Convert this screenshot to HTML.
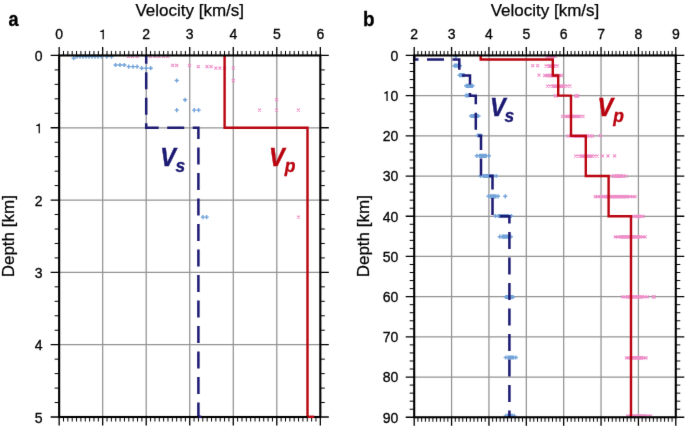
<!DOCTYPE html>
<html><head><meta charset="utf-8"><title>Velocity models</title><style>html,body{margin:0;padding:0;background:#fff;overflow:hidden}svg{display:block}#w{width:685px;height:426px;will-change:transform}</style></head><body><div id="w">
<svg width="685" height="426" viewBox="0 0 685 426"><defs><filter id="soft" x="0" y="0" width="1" height="1" color-interpolation-filters="sRGB"><feConvolveMatrix order="3" kernelMatrix="0.0052 0.0619 0.0052 0.0619 0.7314 0.0619 0.0052 0.0619 0.0052" edgeMode="duplicate"/></filter></defs><g filter="url(#soft)"><rect width="685" height="426" fill="#fff"/><path d="M102.68 55.45V417M146.21 55.45V417M189.74 55.45V417M233.27 55.45V417M276.8 55.45V417M59.15 127.76H320.33M59.15 200.07H320.33M59.15 272.38H320.33M59.15 344.69H320.33M451.57 55.45V417.25M488.94 55.45V417.25M526.31 55.45V417.25M563.68 55.45V417.25M601.05 55.45V417.25M638.42 55.45V417.25M414.2 95.65H675.79M414.2 135.85H675.79M414.2 176.05H675.79M414.2 216.25H675.79M414.2 256.45H675.79M414.2 296.65H675.79M414.2 336.85H675.79M414.2 377.05H675.79" stroke="#939393" stroke-width="1.25" fill="none"/>
<text transform="translate(160.3 165.5) scale(0.92 1)" font-family='"Liberation Sans", sans-serif' font-weight="bold" font-style="italic" font-size="25.5" fill="#1c1a72" stroke="#1c1a72" stroke-width="0.45">V</text>
<text x="175.6" y="172.1" font-family='"Liberation Sans", sans-serif' font-weight="bold" font-style="italic" font-size="17.5" fill="#1c1a72" stroke="#1c1a72" stroke-width="0.3">s</text>
<text transform="translate(269 165.5) scale(0.92 1)" font-family='"Liberation Sans", sans-serif' font-weight="bold" font-style="italic" font-size="25.5" fill="#b9040f" stroke="#b9040f" stroke-width="0.45">V</text>
<text x="284.8" y="172.1" font-family='"Liberation Sans", sans-serif' font-weight="bold" font-style="italic" font-size="17.5" fill="#b9040f" stroke="#b9040f" stroke-width="0.3">p</text>
<text transform="translate(489.9 115.6) scale(0.92 1)" font-family='"Liberation Sans", sans-serif' font-weight="bold" font-style="italic" font-size="25.5" fill="#1c1a72" stroke="#1c1a72" stroke-width="0.45">V</text>
<text x="504.6" y="121.8" font-family='"Liberation Sans", sans-serif' font-weight="bold" font-style="italic" font-size="17.5" fill="#1c1a72" stroke="#1c1a72" stroke-width="0.3">s</text>
<text transform="translate(597.5 115.6) scale(0.92 1)" font-family='"Liberation Sans", sans-serif' font-weight="bold" font-style="italic" font-size="25.5" fill="#b9040f" stroke="#b9040f" stroke-width="0.45">V</text>
<text x="613.2" y="122.4" font-family='"Liberation Sans", sans-serif' font-weight="bold" font-style="italic" font-size="17.5" fill="#b9040f" stroke="#b9040f" stroke-width="0.3">p</text>
<path d="M126.9 54.8l3 3M126.9 57.8l3 -3M131 54.8l3 3M131 57.8l3 -3M135.6 54.8l3 3M135.6 57.8l3 -3M148.9 54.8l3 3M148.9 57.8l3 -3M153.5 54.8l3 3M153.5 57.8l3 -3M157.5 54.8l3 3M157.5 57.8l3 -3M162.1 54.8l3 3M162.1 57.8l3 -3M166.2 54.8l3 3M166.2 57.8l3 -3M171.1 63.8l3 3M171.1 66.8l3 -3M175.2 63.8l3 3M175.2 66.8l3 -3M188 63.8l3 3M188 66.8l3 -3M196.8 65.2l3 3M196.8 68.2l3 -3M205.5 65.2l3 3M205.5 68.2l3 -3M209.6 65.2l3 3M209.6 68.2l3 -3M214.3 66.6l3 3M214.3 69.6l3 -3M218.4 66.6l3 3M218.4 69.6l3 -3M223.1 66.6l3 3M223.1 69.6l3 -3M231.8 66.6l3 3M231.8 69.6l3 -3M231.8 79l3 3M231.8 82l3 -3M275.1 98.1l3 3M275.1 101.1l3 -3M258 108.6l3 3M258 111.6l3 -3M275.1 108.6l3 3M275.1 111.6l3 -3M296.9 108.6l3 3M296.9 111.6l3 -3M297 215.6l3 3M297 218.6l3 -3M545.4 54.8l3 3M545.4 57.8l3 -3M553.6 54.8l3 3M553.6 57.8l3 -3M547.2 54.8l3 3M547.2 57.8l3 -3M548.35 54.8l3 3M548.35 57.8l3 -3M549.5 54.8l3 3M549.5 57.8l3 -3M550.65 54.8l3 3M550.65 57.8l3 -3M551.8 54.8l3 3M551.8 57.8l3 -3M544.6 64.5l3 3M544.6 67.5l3 -3M555.7 64.5l3 3M555.7 67.5l3 -3M547.04 64.5l3 3M547.04 67.5l3 -3M548.29 64.5l3 3M548.29 67.5l3 -3M549.53 64.5l3 3M549.53 67.5l3 -3M550.77 64.5l3 3M550.77 67.5l3 -3M552.01 64.5l3 3M552.01 67.5l3 -3M553.26 64.5l3 3M553.26 67.5l3 -3M543.2 74l3 3M543.2 77l3 -3M545.8 74l3 3M545.8 77l3 -3M560 74l3 3M560 77l3 -3M557.4 74l3 3M557.4 77l3 -3M546.9 74l3 3M546.9 77l3 -3M548.24 74l3 3M548.24 77l3 -3M549.58 74l3 3M549.58 77l3 -3M550.93 74l3 3M550.93 77l3 -3M552.27 74l3 3M552.27 77l3 -3M553.62 74l3 3M553.62 77l3 -3M554.96 74l3 3M554.96 77l3 -3M556.3 74l3 3M556.3 77l3 -3M546 84.6l3 3M546 87.6l3 -3M548.6 84.6l3 3M548.6 87.6l3 -3M568.4 84.6l3 3M568.4 87.6l3 -3M565.8 84.6l3 3M565.8 87.6l3 -3M550.93 84.6l3 3M550.93 87.6l3 -3M552.18 84.6l3 3M552.18 87.6l3 -3M553.44 84.6l3 3M553.44 87.6l3 -3M554.69 84.6l3 3M554.69 87.6l3 -3M555.95 84.6l3 3M555.95 87.6l3 -3M557.2 84.6l3 3M557.2 87.6l3 -3M558.45 84.6l3 3M558.45 87.6l3 -3M559.71 84.6l3 3M559.71 87.6l3 -3M560.96 84.6l3 3M560.96 87.6l3 -3M562.22 84.6l3 3M562.22 87.6l3 -3M563.47 84.6l3 3M563.47 87.6l3 -3M553.8 94.4l3 3M553.8 97.4l3 -3M554.3 94.4l3 3M554.3 97.4l3 -3M574.2 94.4l3 3M574.2 97.4l3 -3M575.2 94.4l3 3M575.2 97.4l3 -3M576.2 94.4l3 3M576.2 97.4l3 -3M561 114.8l3 3M561 117.8l3 -3M563.6 114.8l3 3M563.6 117.8l3 -3M581.5 114.8l3 3M581.5 117.8l3 -3M578.9 114.8l3 3M578.9 117.8l3 -3M565.51 114.8l3 3M565.51 117.8l3 -3M566.79 114.8l3 3M566.79 117.8l3 -3M568.06 114.8l3 3M568.06 117.8l3 -3M569.34 114.8l3 3M569.34 117.8l3 -3M570.61 114.8l3 3M570.61 117.8l3 -3M571.89 114.8l3 3M571.89 117.8l3 -3M573.16 114.8l3 3M573.16 117.8l3 -3M574.44 114.8l3 3M574.44 117.8l3 -3M575.71 114.8l3 3M575.71 117.8l3 -3M576.99 114.8l3 3M576.99 117.8l3 -3M566.7 134.5l3 3M566.7 137.5l3 -3M569.3 134.5l3 3M569.3 137.5l3 -3M590.9 134.5l3 3M590.9 137.5l3 -3M588.3 134.5l3 3M588.3 137.5l3 -3M572.02 134.5l3 3M572.02 137.5l3 -3M573.38 134.5l3 3M573.38 137.5l3 -3M574.73 134.5l3 3M574.73 137.5l3 -3M576.09 134.5l3 3M576.09 137.5l3 -3M577.44 134.5l3 3M577.44 137.5l3 -3M578.8 134.5l3 3M578.8 137.5l3 -3M580.16 134.5l3 3M580.16 137.5l3 -3M581.51 134.5l3 3M581.51 137.5l3 -3M582.87 134.5l3 3M582.87 137.5l3 -3M584.22 134.5l3 3M584.22 137.5l3 -3M585.58 134.5l3 3M585.58 137.5l3 -3M574.2 154.6l3 3M574.2 157.6l3 -3M576.8 154.6l3 3M576.8 157.6l3 -3M595.6 154.6l3 3M595.6 157.6l3 -3M593 154.6l3 3M593 157.6l3 -3M578.91 154.6l3 3M578.91 157.6l3 -3M580.24 154.6l3 3M580.24 157.6l3 -3M581.57 154.6l3 3M581.57 157.6l3 -3M582.9 154.6l3 3M582.9 157.6l3 -3M584.23 154.6l3 3M584.23 157.6l3 -3M585.57 154.6l3 3M585.57 157.6l3 -3M586.9 154.6l3 3M586.9 157.6l3 -3M588.23 154.6l3 3M588.23 157.6l3 -3M589.56 154.6l3 3M589.56 157.6l3 -3M590.89 154.6l3 3M590.89 157.6l3 -3M609.6 174.6l3 3M609.6 177.6l3 -3M612.2 174.6l3 3M612.2 177.6l3 -3M624.6 174.6l3 3M624.6 177.6l3 -3M622 174.6l3 3M622 177.6l3 -3M612.9 174.6l3 3M612.9 177.6l3 -3M614.3 174.6l3 3M614.3 177.6l3 -3M615.7 174.6l3 3M615.7 177.6l3 -3M617.1 174.6l3 3M617.1 177.6l3 -3M618.5 174.6l3 3M618.5 177.6l3 -3M619.9 174.6l3 3M619.9 177.6l3 -3M621.3 174.6l3 3M621.3 177.6l3 -3M593.7 195.2l3 3M593.7 198.2l3 -3M596.3 195.2l3 3M596.3 198.2l3 -3M598.9 195.2l3 3M598.9 198.2l3 -3M601.5 195.2l3 3M601.5 198.2l3 -3M633.7 195.2l3 3M633.7 198.2l3 -3M631.1 195.2l3 3M631.1 198.2l3 -3M628.5 195.2l3 3M628.5 198.2l3 -3M625.9 195.2l3 3M625.9 198.2l3 -3M602.5 195.2l3 3M602.5 198.2l3 -3M603.82 195.2l3 3M603.82 198.2l3 -3M605.14 195.2l3 3M605.14 198.2l3 -3M606.45 195.2l3 3M606.45 198.2l3 -3M607.77 195.2l3 3M607.77 198.2l3 -3M609.09 195.2l3 3M609.09 198.2l3 -3M610.41 195.2l3 3M610.41 198.2l3 -3M611.72 195.2l3 3M611.72 198.2l3 -3M613.04 195.2l3 3M613.04 198.2l3 -3M614.36 195.2l3 3M614.36 198.2l3 -3M615.68 195.2l3 3M615.68 198.2l3 -3M616.99 195.2l3 3M616.99 198.2l3 -3M618.31 195.2l3 3M618.31 198.2l3 -3M619.63 195.2l3 3M619.63 198.2l3 -3M620.95 195.2l3 3M620.95 198.2l3 -3M622.26 195.2l3 3M622.26 198.2l3 -3M623.58 195.2l3 3M623.58 198.2l3 -3M624.9 195.2l3 3M624.9 198.2l3 -3M631.8 214.8l3 3M631.8 217.8l3 -3M641.5 214.8l3 3M641.5 217.8l3 -3M633.93 214.8l3 3M633.93 217.8l3 -3M635.29 214.8l3 3M635.29 217.8l3 -3M636.65 214.8l3 3M636.65 217.8l3 -3M638.01 214.8l3 3M638.01 217.8l3 -3M639.37 214.8l3 3M639.37 217.8l3 -3M613.8 235.3l3 3M613.8 238.3l3 -3M616.4 235.3l3 3M616.4 238.3l3 -3M619 235.3l3 3M619 238.3l3 -3M643.6 235.3l3 3M643.6 238.3l3 -3M641 235.3l3 3M641 238.3l3 -3M638.4 235.3l3 3M638.4 238.3l3 -3M620.36 235.3l3 3M620.36 238.3l3 -3M621.64 235.3l3 3M621.64 238.3l3 -3M622.92 235.3l3 3M622.92 238.3l3 -3M624.21 235.3l3 3M624.21 238.3l3 -3M625.49 235.3l3 3M625.49 238.3l3 -3M626.77 235.3l3 3M626.77 238.3l3 -3M628.06 235.3l3 3M628.06 238.3l3 -3M629.34 235.3l3 3M629.34 238.3l3 -3M630.63 235.3l3 3M630.63 238.3l3 -3M631.91 235.3l3 3M631.91 238.3l3 -3M633.19 235.3l3 3M633.19 238.3l3 -3M634.48 235.3l3 3M634.48 238.3l3 -3M635.76 235.3l3 3M635.76 238.3l3 -3M637.04 235.3l3 3M637.04 238.3l3 -3M621.2 295.4l3 3M621.2 298.4l3 -3M623.8 295.4l3 3M623.8 298.4l3 -3M645.7 295.4l3 3M645.7 298.4l3 -3M643.1 295.4l3 3M643.1 298.4l3 -3M626.59 295.4l3 3M626.59 298.4l3 -3M627.84 295.4l3 3M627.84 298.4l3 -3M629.08 295.4l3 3M629.08 298.4l3 -3M630.33 295.4l3 3M630.33 298.4l3 -3M631.58 295.4l3 3M631.58 298.4l3 -3M632.83 295.4l3 3M632.83 298.4l3 -3M634.07 295.4l3 3M634.07 298.4l3 -3M635.32 295.4l3 3M635.32 298.4l3 -3M636.57 295.4l3 3M636.57 298.4l3 -3M637.82 295.4l3 3M637.82 298.4l3 -3M639.06 295.4l3 3M639.06 298.4l3 -3M640.31 295.4l3 3M640.31 298.4l3 -3M651.8 295.4l3 3M651.8 298.4l3 -3M652.6 295.4l3 3M652.6 298.4l3 -3M625 356.3l3 3M625 359.3l3 -3M627.6 356.3l3 3M627.6 359.3l3 -3M644.6 356.3l3 3M644.6 359.3l3 -3M642 356.3l3 3M642 359.3l3 -3M629.31 356.3l3 3M629.31 359.3l3 -3M630.68 356.3l3 3M630.68 359.3l3 -3M632.06 356.3l3 3M632.06 359.3l3 -3M633.43 356.3l3 3M633.43 359.3l3 -3M634.8 356.3l3 3M634.8 359.3l3 -3M636.17 356.3l3 3M636.17 359.3l3 -3M637.54 356.3l3 3M637.54 359.3l3 -3M638.92 356.3l3 3M638.92 359.3l3 -3M640.29 356.3l3 3M640.29 359.3l3 -3M626.2 414.5l3 3M626.2 417.5l3 -3M628.8 414.5l3 3M628.8 417.5l3 -3M649.1 414.5l3 3M649.1 417.5l3 -3M646.5 414.5l3 3M646.5 417.5l3 -3M631.24 414.5l3 3M631.24 417.5l3 -3M632.52 414.5l3 3M632.52 417.5l3 -3M633.8 414.5l3 3M633.8 417.5l3 -3M635.09 414.5l3 3M635.09 417.5l3 -3M636.37 414.5l3 3M636.37 417.5l3 -3M637.65 414.5l3 3M637.65 417.5l3 -3M638.93 414.5l3 3M638.93 417.5l3 -3M640.21 414.5l3 3M640.21 417.5l3 -3M641.5 414.5l3 3M641.5 417.5l3 -3M642.78 414.5l3 3M642.78 417.5l3 -3M644.06 414.5l3 3M644.06 417.5l3 -3M531.2 64.2l3 3M531.2 67.2l3 -3M536.1 64.2l3 3M536.1 67.2l3 -3M537.5 73.7l3 3M537.5 76.7l3 -3M599 134.2l3 3M599 137.2l3 -3M600.9 154.3l3 3M600.9 157.3l3 -3M606.5 154.3l3 3M606.5 157.3l3 -3M613.1 154.3l3 3M613.1 157.3l3 -3" stroke="#ee8ec8" stroke-width="1.1" fill="none"/>
<path d="M71.6 58.2h4.2M73.7 56.1v4.2M74.9 56.6h4.2M77 54.5v4.2M77.9 56.6h4.2M80 54.5v4.2M80.9 56.6h4.2M83 54.5v4.2M83.9 56.6h4.2M86 54.5v4.2M86.9 56.6h4.2M89 54.5v4.2M89.9 56.6h4.2M92 54.5v4.2M92.9 56.6h4.2M95 54.5v4.2M95.9 56.6h4.2M98 54.5v4.2M99.4 56.6h4.2M101.5 54.5v4.2M104.7 56.6h4.2M106.8 54.5v4.2M109.4 56.6h4.2M111.5 54.5v4.2M113.5 65h4.2M115.6 62.9v4.2M117.9 65h4.2M120 62.9v4.2M122.2 65h4.2M124.3 62.9v4.2M126.6 66.6h4.2M128.7 64.5v4.2M130.9 66.6h4.2M133 64.5v4.2M135 66.6h4.2M137.1 64.5v4.2M139.6 68.2h4.2M141.7 66.1v4.2M144.2 68.2h4.2M146.3 66.1v4.2M148.6 68.2h4.2M150.7 66.1v4.2M174.6 80.5h4.2M176.7 78.4v4.2M183 99.8h4.2M185.1 97.7v4.2M174.6 110.1h4.2M176.7 108v4.2M192.1 110.1h4.2M194.2 108v4.2M196.5 110.1h4.2M198.6 108v4.2M200.8 217.1h4.2M202.9 215v4.2M204.5 217.1h4.2M206.6 215v4.2M453.3 56h4.2M455.4 53.9v4.2M454.2 56h4.2M456.3 53.9v4.2M452.3 65.7h4.2M454.4 63.6v4.2M453.65 65.7h4.2M455.75 63.6v4.2M455 65.7h4.2M457.1 63.6v4.2M456.35 65.7h4.2M458.45 63.6v4.2M457.7 65.7h4.2M459.8 63.6v4.2M457.5 75.2h4.2M459.6 73.1v4.2M458.97 75.2h4.2M461.07 73.1v4.2M460.43 75.2h4.2M462.53 73.1v4.2M461.9 75.2h4.2M464 73.1v4.2M464.1 85.8h4.2M466.2 83.7v4.2M465.36 85.8h4.2M467.46 83.7v4.2M466.62 85.8h4.2M468.72 83.7v4.2M467.88 85.8h4.2M469.98 83.7v4.2M469.14 85.8h4.2M471.24 83.7v4.2M470.4 85.8h4.2M472.5 83.7v4.2M463.9 95.5h4.2M466 93.4v4.2M465.05 95.5h4.2M467.15 93.4v4.2M466.2 95.5h4.2M468.3 93.4v4.2M469 116h4.2M471.1 113.9v4.2M470.22 116h4.2M472.32 113.9v4.2M471.43 116h4.2M473.53 113.9v4.2M472.65 116h4.2M474.75 113.9v4.2M473.87 116h4.2M475.97 113.9v4.2M475.08 116h4.2M477.18 113.9v4.2M476.3 116h4.2M478.4 113.9v4.2M475.6 135.5h4.2M477.7 133.4v4.2M477.2 135.5h4.2M479.3 133.4v4.2M478.8 135.5h4.2M480.9 133.4v4.2M474.7 155.8h4.2M476.8 153.7v4.2M486.7 155.8h4.2M488.8 153.7v4.2M477.34 155.8h4.2M479.44 153.7v4.2M478.68 155.8h4.2M480.78 153.7v4.2M480.03 155.8h4.2M482.13 153.7v4.2M481.37 155.8h4.2M483.47 153.7v4.2M482.72 155.8h4.2M484.82 153.7v4.2M484.06 155.8h4.2M486.16 153.7v4.2M478.4 176h4.2M480.5 173.9v4.2M481.2 176h4.2M483.3 173.9v4.2M494.1 176h4.2M496.2 173.9v4.2M491.3 176h4.2M493.4 173.9v4.2M481.85 176h4.2M483.95 173.9v4.2M483.11 176h4.2M485.21 173.9v4.2M484.37 176h4.2M486.47 173.9v4.2M485.62 176h4.2M487.72 173.9v4.2M486.88 176h4.2M488.98 173.9v4.2M488.13 176h4.2M490.23 173.9v4.2M489.39 176h4.2M491.49 173.9v4.2M490.65 176h4.2M492.75 173.9v4.2M486.4 196.3h4.2M488.5 194.2v4.2M495.9 196.3h4.2M498 194.2v4.2M488.49 196.3h4.2M490.59 194.2v4.2M489.82 196.3h4.2M491.92 194.2v4.2M491.15 196.3h4.2M493.25 194.2v4.2M492.48 196.3h4.2M494.58 194.2v4.2M493.81 196.3h4.2M495.91 194.2v4.2M493.4 216h4.2M495.5 213.9v4.2M496.2 216h4.2M498.3 213.9v4.2M509.1 216h4.2M511.2 213.9v4.2M506.3 216h4.2M508.4 213.9v4.2M496.85 216h4.2M498.95 213.9v4.2M498.11 216h4.2M500.21 213.9v4.2M499.37 216h4.2M501.47 213.9v4.2M500.62 216h4.2M502.72 213.9v4.2M501.88 216h4.2M503.98 213.9v4.2M503.13 216h4.2M505.23 213.9v4.2M504.39 216h4.2M506.49 213.9v4.2M505.65 216h4.2M507.75 213.9v4.2M497.7 236.7h4.2M499.8 234.6v4.2M508.7 236.7h4.2M510.8 234.6v4.2M500.12 236.7h4.2M502.22 234.6v4.2M501.35 236.7h4.2M503.45 234.6v4.2M502.58 236.7h4.2M504.68 234.6v4.2M503.82 236.7h4.2M505.92 234.6v4.2M505.05 236.7h4.2M507.15 234.6v4.2M506.28 236.7h4.2M508.38 234.6v4.2M503.7 297h4.2M505.8 294.9v4.2M504.9 297h4.2M507 294.9v4.2M506.1 297h4.2M508.2 294.9v4.2M507.3 297h4.2M509.4 294.9v4.2M508.5 297h4.2M510.6 294.9v4.2M509.7 297h4.2M511.8 294.9v4.2M510.9 297h4.2M513 294.9v4.2M503.7 357.5h4.2M505.8 355.4v4.2M513.7 357.5h4.2M515.8 355.4v4.2M505.9 357.5h4.2M508 355.4v4.2M507.3 357.5h4.2M509.4 355.4v4.2M508.7 357.5h4.2M510.8 355.4v4.2M510.1 357.5h4.2M512.2 355.4v4.2M511.5 357.5h4.2M513.6 355.4v4.2M503.7 415.9h4.2M505.8 413.8v4.2M512.1 415.9h4.2M514.2 413.8v4.2M505.55 415.9h4.2M507.65 413.8v4.2M506.72 415.9h4.2M508.82 413.8v4.2M507.9 415.9h4.2M510 413.8v4.2M509.08 415.9h4.2M511.18 413.8v4.2M510.25 415.9h4.2M512.35 413.8v4.2M503.2 196.3h4.2M505.3 194.2v4.2" stroke="#72a3d9" stroke-width="1.4" fill="none"/>
<path d="M224.6 55.45L224.6 127.76L307.5 127.76L307.5 417M480.7 55.45L480.7 59.47L552.8 59.47L552.8 75.55L558.2 75.55L558.2 95.65L571 95.65L571 135.85L585.8 135.85L585.8 176.05L608.6 176.05L608.6 216.25L631 216.25L631 417.25" stroke="#b9040f" stroke-width="2.4" fill="none" stroke-linejoin="miter"/>
<path d="M146.21 55.45L146.21 127.76L198.4 127.76L198.4 417" stroke="#1c1a72" stroke-width="2.5" fill="none" stroke-dasharray="17 8.5" stroke-dashoffset="8.7"/>
<path d="M414.2 55.45L414.2 59.47L459.3 59.47L459.3 75.55L470 75.55L470 95.65L475.8 95.65L475.8 135.85L481 135.85L481 176.05L492.5 176.05L492.5 216.25L509.4 216.25L509.4 417.25" stroke="#1c1a72" stroke-width="2.5" fill="none" stroke-dasharray="17 8.5" stroke-dashoffset="8.7"/>
<path d="M59.15 55.45v-8.5M59.15 417v8.5M102.68 55.45v-8.5M102.68 417v8.5M146.21 55.45v-8.5M146.21 417v8.5M189.74 55.45v-8.5M189.74 417v8.5M233.27 55.45v-8.5M233.27 417v8.5M276.8 55.45v-8.5M276.8 417v8.5M320.33 55.45v-8.5M320.33 417v8.5M59.15 55.45h-8.5M320.33 55.45h8.5M59.15 127.76h-8.5M320.33 127.76h8.5M59.15 200.07h-8.5M320.33 200.07h8.5M59.15 272.38h-8.5M320.33 272.38h8.5M59.15 344.69h-8.5M320.33 344.69h8.5M59.15 417h-8.5M320.33 417h8.5" stroke="#000" stroke-width="1.3" fill="none"/>
<path d="M63.5 55.45v-4.5M63.5 417v4.5M67.86 55.45v-4.5M67.86 417v4.5M72.21 55.45v-4.5M72.21 417v4.5M76.56 55.45v-4.5M76.56 417v4.5M80.91 55.45v-4.5M80.91 417v4.5M85.27 55.45v-4.5M85.27 417v4.5M89.62 55.45v-4.5M89.62 417v4.5M93.97 55.45v-4.5M93.97 417v4.5M98.33 55.45v-4.5M98.33 417v4.5M107.03 55.45v-4.5M107.03 417v4.5M111.39 55.45v-4.5M111.39 417v4.5M115.74 55.45v-4.5M115.74 417v4.5M120.09 55.45v-4.5M120.09 417v4.5M124.44 55.45v-4.5M124.44 417v4.5M128.8 55.45v-4.5M128.8 417v4.5M133.15 55.45v-4.5M133.15 417v4.5M137.5 55.45v-4.5M137.5 417v4.5M141.86 55.45v-4.5M141.86 417v4.5M150.56 55.45v-4.5M150.56 417v4.5M154.92 55.45v-4.5M154.92 417v4.5M159.27 55.45v-4.5M159.27 417v4.5M163.62 55.45v-4.5M163.62 417v4.5M167.97 55.45v-4.5M167.97 417v4.5M172.33 55.45v-4.5M172.33 417v4.5M176.68 55.45v-4.5M176.68 417v4.5M181.03 55.45v-4.5M181.03 417v4.5M185.39 55.45v-4.5M185.39 417v4.5M194.09 55.45v-4.5M194.09 417v4.5M198.45 55.45v-4.5M198.45 417v4.5M202.8 55.45v-4.5M202.8 417v4.5M207.15 55.45v-4.5M207.15 417v4.5M211.51 55.45v-4.5M211.51 417v4.5M215.86 55.45v-4.5M215.86 417v4.5M220.21 55.45v-4.5M220.21 417v4.5M224.56 55.45v-4.5M224.56 417v4.5M228.92 55.45v-4.5M228.92 417v4.5M237.62 55.45v-4.5M237.62 417v4.5M241.98 55.45v-4.5M241.98 417v4.5M246.33 55.45v-4.5M246.33 417v4.5M250.68 55.45v-4.5M250.68 417v4.5M255.03 55.45v-4.5M255.03 417v4.5M259.39 55.45v-4.5M259.39 417v4.5M263.74 55.45v-4.5M263.74 417v4.5M268.09 55.45v-4.5M268.09 417v4.5M272.45 55.45v-4.5M272.45 417v4.5M281.15 55.45v-4.5M281.15 417v4.5M285.51 55.45v-4.5M285.51 417v4.5M289.86 55.45v-4.5M289.86 417v4.5M294.21 55.45v-4.5M294.21 417v4.5M298.56 55.45v-4.5M298.56 417v4.5M302.92 55.45v-4.5M302.92 417v4.5M307.27 55.45v-4.5M307.27 417v4.5M311.62 55.45v-4.5M311.62 417v4.5M315.98 55.45v-4.5M315.98 417v4.5M59.15 69.91h-4.5M320.33 69.91h4.5M59.15 84.37h-4.5M320.33 84.37h4.5M59.15 98.84h-4.5M320.33 98.84h4.5M59.15 113.3h-4.5M320.33 113.3h4.5M59.15 142.22h-4.5M320.33 142.22h4.5M59.15 156.68h-4.5M320.33 156.68h4.5M59.15 171.15h-4.5M320.33 171.15h4.5M59.15 185.61h-4.5M320.33 185.61h4.5M59.15 214.53h-4.5M320.33 214.53h4.5M59.15 228.99h-4.5M320.33 228.99h4.5M59.15 243.46h-4.5M320.33 243.46h4.5M59.15 257.92h-4.5M320.33 257.92h4.5M59.15 286.84h-4.5M320.33 286.84h4.5M59.15 301.3h-4.5M320.33 301.3h4.5M59.15 315.77h-4.5M320.33 315.77h4.5M59.15 330.23h-4.5M320.33 330.23h4.5M59.15 359.15h-4.5M320.33 359.15h4.5M59.15 373.61h-4.5M320.33 373.61h4.5M59.15 388.08h-4.5M320.33 388.08h4.5M59.15 402.54h-4.5M320.33 402.54h4.5" stroke="#000" stroke-width="1" fill="none"/>
<rect x="59.15" y="55.45" width="261.18" height="361.55" stroke="#000" stroke-width="2.1" fill="none"/>
<path d="M414.2 55.45v-8.5M414.2 417.25v8.5M451.57 55.45v-8.5M451.57 417.25v8.5M488.94 55.45v-8.5M488.94 417.25v8.5M526.31 55.45v-8.5M526.31 417.25v8.5M563.68 55.45v-8.5M563.68 417.25v8.5M601.05 55.45v-8.5M601.05 417.25v8.5M638.42 55.45v-8.5M638.42 417.25v8.5M675.79 55.45v-8.5M675.79 417.25v8.5M414.2 55.45h-8.5M675.79 55.45h8.5M414.2 95.65h-8.5M675.79 95.65h8.5M414.2 135.85h-8.5M675.79 135.85h8.5M414.2 176.05h-8.5M675.79 176.05h8.5M414.2 216.25h-8.5M675.79 216.25h8.5M414.2 256.45h-8.5M675.79 256.45h8.5M414.2 296.65h-8.5M675.79 296.65h8.5M414.2 336.85h-8.5M675.79 336.85h8.5M414.2 377.05h-8.5M675.79 377.05h8.5M414.2 417.25h-8.5M675.79 417.25h8.5" stroke="#000" stroke-width="1.3" fill="none"/>
<path d="M417.94 55.45v-4.5M417.94 417.25v4.5M421.67 55.45v-4.5M421.67 417.25v4.5M425.41 55.45v-4.5M425.41 417.25v4.5M429.15 55.45v-4.5M429.15 417.25v4.5M432.88 55.45v-4.5M432.88 417.25v4.5M436.62 55.45v-4.5M436.62 417.25v4.5M440.36 55.45v-4.5M440.36 417.25v4.5M444.1 55.45v-4.5M444.1 417.25v4.5M447.83 55.45v-4.5M447.83 417.25v4.5M455.31 55.45v-4.5M455.31 417.25v4.5M459.04 55.45v-4.5M459.04 417.25v4.5M462.78 55.45v-4.5M462.78 417.25v4.5M466.52 55.45v-4.5M466.52 417.25v4.5M470.25 55.45v-4.5M470.25 417.25v4.5M473.99 55.45v-4.5M473.99 417.25v4.5M477.73 55.45v-4.5M477.73 417.25v4.5M481.47 55.45v-4.5M481.47 417.25v4.5M485.2 55.45v-4.5M485.2 417.25v4.5M492.68 55.45v-4.5M492.68 417.25v4.5M496.41 55.45v-4.5M496.41 417.25v4.5M500.15 55.45v-4.5M500.15 417.25v4.5M503.89 55.45v-4.5M503.89 417.25v4.5M507.62 55.45v-4.5M507.62 417.25v4.5M511.36 55.45v-4.5M511.36 417.25v4.5M515.1 55.45v-4.5M515.1 417.25v4.5M518.84 55.45v-4.5M518.84 417.25v4.5M522.57 55.45v-4.5M522.57 417.25v4.5M530.05 55.45v-4.5M530.05 417.25v4.5M533.78 55.45v-4.5M533.78 417.25v4.5M537.52 55.45v-4.5M537.52 417.25v4.5M541.26 55.45v-4.5M541.26 417.25v4.5M545 55.45v-4.5M545 417.25v4.5M548.73 55.45v-4.5M548.73 417.25v4.5M552.47 55.45v-4.5M552.47 417.25v4.5M556.21 55.45v-4.5M556.21 417.25v4.5M559.94 55.45v-4.5M559.94 417.25v4.5M567.42 55.45v-4.5M567.42 417.25v4.5M571.15 55.45v-4.5M571.15 417.25v4.5M574.89 55.45v-4.5M574.89 417.25v4.5M578.63 55.45v-4.5M578.63 417.25v4.5M582.37 55.45v-4.5M582.37 417.25v4.5M586.1 55.45v-4.5M586.1 417.25v4.5M589.84 55.45v-4.5M589.84 417.25v4.5M593.58 55.45v-4.5M593.58 417.25v4.5M597.31 55.45v-4.5M597.31 417.25v4.5M604.79 55.45v-4.5M604.79 417.25v4.5M608.52 55.45v-4.5M608.52 417.25v4.5M612.26 55.45v-4.5M612.26 417.25v4.5M616 55.45v-4.5M616 417.25v4.5M619.74 55.45v-4.5M619.74 417.25v4.5M623.47 55.45v-4.5M623.47 417.25v4.5M627.21 55.45v-4.5M627.21 417.25v4.5M630.95 55.45v-4.5M630.95 417.25v4.5M634.68 55.45v-4.5M634.68 417.25v4.5M642.16 55.45v-4.5M642.16 417.25v4.5M645.89 55.45v-4.5M645.89 417.25v4.5M649.63 55.45v-4.5M649.63 417.25v4.5M653.37 55.45v-4.5M653.37 417.25v4.5M657.11 55.45v-4.5M657.11 417.25v4.5M660.84 55.45v-4.5M660.84 417.25v4.5M664.58 55.45v-4.5M664.58 417.25v4.5M668.32 55.45v-4.5M668.32 417.25v4.5M672.05 55.45v-4.5M672.05 417.25v4.5M414.2 63.49h-4.5M675.79 63.49h4.5M414.2 71.53h-4.5M675.79 71.53h4.5M414.2 79.57h-4.5M675.79 79.57h4.5M414.2 87.61h-4.5M675.79 87.61h4.5M414.2 103.69h-4.5M675.79 103.69h4.5M414.2 111.73h-4.5M675.79 111.73h4.5M414.2 119.77h-4.5M675.79 119.77h4.5M414.2 127.81h-4.5M675.79 127.81h4.5M414.2 143.89h-4.5M675.79 143.89h4.5M414.2 151.93h-4.5M675.79 151.93h4.5M414.2 159.97h-4.5M675.79 159.97h4.5M414.2 168.01h-4.5M675.79 168.01h4.5M414.2 184.09h-4.5M675.79 184.09h4.5M414.2 192.13h-4.5M675.79 192.13h4.5M414.2 200.17h-4.5M675.79 200.17h4.5M414.2 208.21h-4.5M675.79 208.21h4.5M414.2 224.29h-4.5M675.79 224.29h4.5M414.2 232.33h-4.5M675.79 232.33h4.5M414.2 240.37h-4.5M675.79 240.37h4.5M414.2 248.41h-4.5M675.79 248.41h4.5M414.2 264.49h-4.5M675.79 264.49h4.5M414.2 272.53h-4.5M675.79 272.53h4.5M414.2 280.57h-4.5M675.79 280.57h4.5M414.2 288.61h-4.5M675.79 288.61h4.5M414.2 304.69h-4.5M675.79 304.69h4.5M414.2 312.73h-4.5M675.79 312.73h4.5M414.2 320.77h-4.5M675.79 320.77h4.5M414.2 328.81h-4.5M675.79 328.81h4.5M414.2 344.89h-4.5M675.79 344.89h4.5M414.2 352.93h-4.5M675.79 352.93h4.5M414.2 360.97h-4.5M675.79 360.97h4.5M414.2 369.01h-4.5M675.79 369.01h4.5M414.2 385.09h-4.5M675.79 385.09h4.5M414.2 393.13h-4.5M675.79 393.13h4.5M414.2 401.17h-4.5M675.79 401.17h4.5M414.2 409.21h-4.5M675.79 409.21h4.5" stroke="#000" stroke-width="1" fill="none"/>
<rect x="414.2" y="55.45" width="261.59" height="361.8" stroke="#000" stroke-width="2.1" fill="none"/>
<path d="M307.5 416.8H314.2" stroke="#b9040f" stroke-width="2.4" fill="none"/>
<path d="M198.4 416.8H201.3" stroke="#1c1a72" stroke-width="2.5" fill="none"/>
<g font-family='"Liberation Sans", sans-serif' font-size="14" fill="#000" stroke="#000" stroke-width="0.3"><text x="55.26" y="39.3">0</text><path transform="translate(98.79 39.3) scale(0.0140 -0.0140)" d="M271 0H359V703H290C272 636 234 604 101 594V527H271Z"/><text x="142.32" y="39.3">2</text><text x="185.85" y="39.3">3</text><text x="229.38" y="39.3">4</text><text x="272.91" y="39.3">5</text><text x="316.44" y="39.3">6</text><text x="34.82" y="61.05">0</text><path transform="translate(34.82 133.36) scale(0.0140 -0.0140)" d="M271 0H359V703H290C272 636 234 604 101 594V527H271Z"/><text x="34.82" y="205.67">2</text><text x="34.82" y="277.98">3</text><text x="34.82" y="350.29">4</text><text x="34.82" y="422.6">5</text><text x="410.31" y="39.3">2</text><text x="447.68" y="39.3">3</text><text x="485.05" y="39.3">4</text><text x="522.42" y="39.3">5</text><text x="559.79" y="39.3">6</text><text x="597.16" y="39.3">7</text><text x="634.53" y="39.3">8</text><text x="671.9" y="39.3">9</text><text x="390.42" y="60.75">0</text><path transform="translate(382.63 100.95) scale(0.0140 -0.0140)" d="M271 0H359V703H290C272 636 234 604 101 594V527H271Z"/><text x="390.42" y="100.95">0</text><text x="382.63" y="141.15">2</text><text x="390.42" y="141.15">0</text><text x="382.63" y="181.35">3</text><text x="390.42" y="181.35">0</text><text x="382.63" y="221.55">4</text><text x="390.42" y="221.55">0</text><text x="382.63" y="261.75">5</text><text x="390.42" y="261.75">0</text><text x="382.63" y="301.95">6</text><text x="390.42" y="301.95">0</text><text x="382.63" y="342.15">7</text><text x="390.42" y="342.15">0</text><text x="382.63" y="382.35">8</text><text x="390.42" y="382.35">0</text><text x="382.63" y="422.55">9</text><text x="390.42" y="422.55">0</text></g>
<g font-family='"Liberation Sans", sans-serif' font-size="17" fill="#000" stroke="#000" stroke-width="0.25"><text x="189.74" y="15.8" text-anchor="middle">Velocity [km/s]</text><text x="545" y="15.8" text-anchor="middle">Velocity [km/s]</text><text transform="translate(14.3 236.22) rotate(-90)" text-anchor="middle">Depth [km]</text><text transform="translate(368.8 236.22) rotate(-90)" text-anchor="middle">Depth [km]</text></g>
<g font-family='"Liberation Sans", sans-serif' font-size="19.5" font-weight="bold" fill="#000" stroke="#000" stroke-width="0.3"><text transform="translate(8.4 25.5) scale(0.93 1)">a</text><text transform="translate(363 25.8) scale(0.97 1)">b</text></g></g></svg>
</div></body></html>
